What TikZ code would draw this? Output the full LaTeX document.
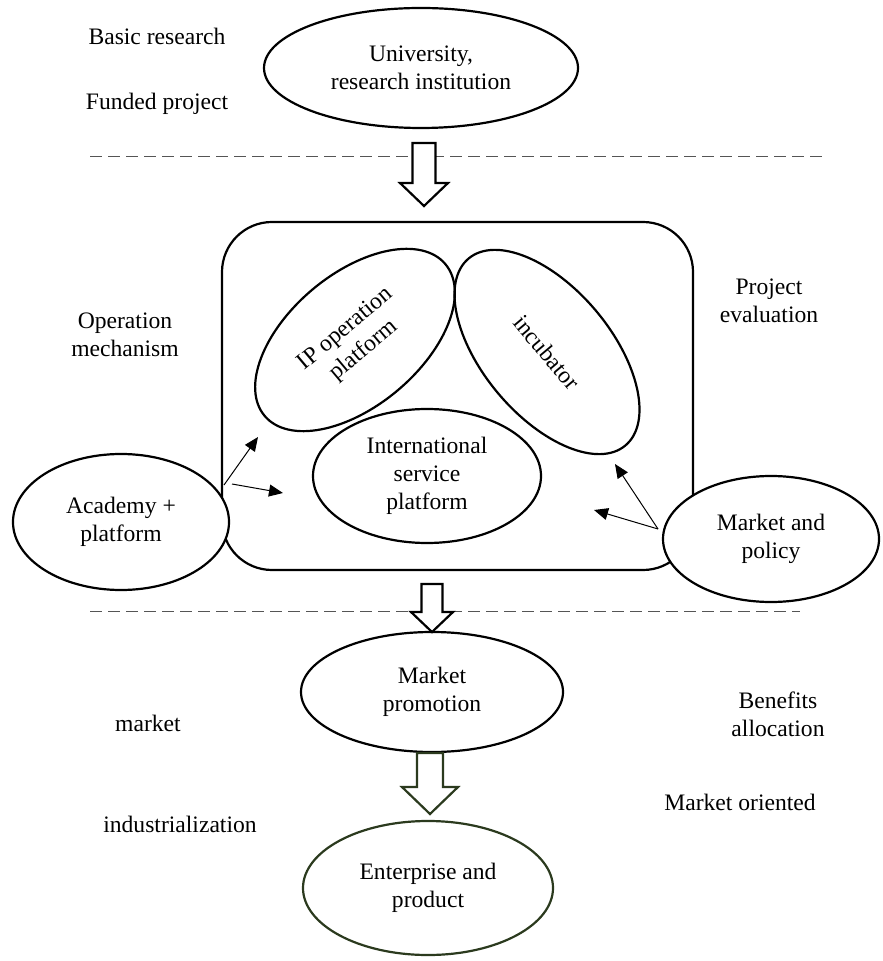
\documentclass[tikz,border=0pt]{standalone}
\usepackage{fontspec}
\setmainfont{Liberation Serif}
\usetikzlibrary{shapes.geometric,arrows.meta}
\definecolor{dkgreen}{HTML}{2B3A1E}
\definecolor{dashgray}{HTML}{555555}
\newcommand\myblockarrow[7]{% color, x, ytop, ybase, ytip, shaft half, head half
  \draw[#1,line width=1.1pt,fill=white,line join=miter]
    (#2-#6,#3) -- (#2+#6,#3) -- (#2+#6,#4) -- (#2+#7,#4) -- (#2,#5)
    -- (#2-#7,#4) -- (#2-#6,#4) -- cycle;}
\tikzset{
  every node/.style={font=\fontsize{11.8}{14}\selectfont, align=center},
  oval/.style={draw, ellipse, line width=1.1pt, inner sep=0pt},
  lbl/.style={inner sep=0pt},
  sep/.style={dashgray, dashed, dash pattern=on 6pt off 3pt, line width=0.5pt},
  thinarrow/.style={-{Triangle[length=7pt,width=6pt]}, line width=0.5pt}
}
\begin{document}
\begin{tikzpicture}[x=0.5pt,y=-0.5pt]
\useasboundingbox (0,0) rectangle (882,961);
% left/right labels
\node[lbl] (basic) at (157,36) {Basic research};
\node[lbl] (funded) at (157,104) {Funded project};
\node[lbl] (opmech) at (125,335) {Operation\\mechanism};
\node[lbl] (projeval) at (769,301) {Project\\evaluation};
\node[lbl] (mkt) at (148,723) {market};
\node[lbl] (benefits) at (778,714) {Benefits\\allocation};
\node[lbl] (indus) at (180,824) {industrialization};
\node[lbl] (mktor) at (740,802) {Market oriented};
% separators
\coordinate (s1a) at (90,157); \coordinate (s1b) at (826,157);
\coordinate (s2a) at (90,611); \coordinate (s2b) at (800,611);
\draw[sep] (s1a) -- (s1b);
\draw[sep] (s2a) -- (s2b);
% top ellipse
\node[oval, minimum width=157pt, minimum height=60pt] (univ) at (421,68) {University,\\research institution};
% hub rectangle
\node[draw, line width=1.1pt, rounded corners=25pt, minimum width=235.5pt, minimum height=174pt] (hub) at (457.5,396) {};
% block arrow 1
\myblockarrow{black}{424}{143}{183}{206}{11.5}{24}
% inner ellipses
\node[oval, rotate=40, minimum width=118pt, minimum height=66pt] (ip) at (355,340) {IP operation\\platform};
\node[oval, rotate=-50, minimum width=122pt, minimum height=64pt] (incub) at (547,352) {incubator};
\node[oval, minimum width=114pt, minimum height=67pt] (intl) at (427,476) {International\\service\\platform};
% side ellipses
\node[oval, fill=white, minimum width=108pt, minimum height=68pt] (acad) at (121,522) {Academy +\\platform};
\node[oval, fill=white, minimum width=108pt, minimum height=63pt] (mpol) at (771,539) {Market and\\policy};
% thin arrows
\coordinate (aL1) at (224,485); \coordinate (aL1e) at (258,437);
\coordinate (aL2) at (232,484); \coordinate (aL2e) at (283,493);
\coordinate (aR) at (658,529); \coordinate (aRe1) at (615,464); \coordinate (aRe2) at (594,510);
\draw[thinarrow] (aL1) -- (aL1e);
\draw[thinarrow] (aL2) -- (aL2e);
\draw[thinarrow] (aR) -- (aRe1);
\draw[thinarrow] (aR) -- (aRe2);
% block arrow 2
\myblockarrow{black}{432}{584}{612}{632}{10.5}{21}
% market promotion
\node[oval, minimum width=131pt, minimum height=60pt] (promo) at (432,692) {Market\\promotion};
% block arrow 3
\myblockarrow{dkgreen}{430}{753}{787}{814}{13}{28}
% enterprise
\node[oval, draw=dkgreen, minimum width=125pt, minimum height=67pt] (ent) at (428,888) {Enterprise and\\product};
\end{tikzpicture}
\end{document}
